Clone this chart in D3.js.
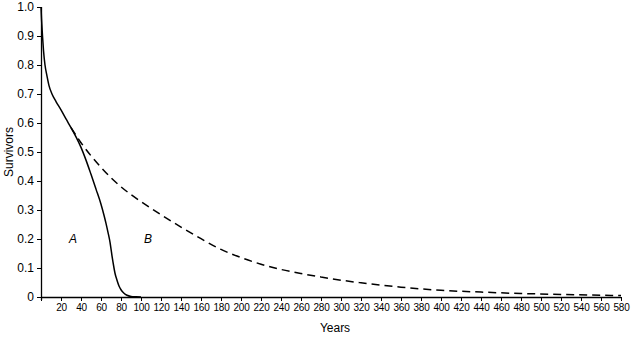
<!DOCTYPE html>
<html>
<head>
<meta charset="utf-8">
<script src="https://cdn.jsdelivr.net/npm/d3@7"></script>
<style>
  body { margin: 0; background: #fff; }
  text { font-family: "Liberation Sans", Arial, Helvetica, sans-serif; fill: #000; }
</style>
</head>
<body>
<div id="chart"></div>
<script>
// curve A (solid) : years / survivors
const yearsA = [0, 0.5, 1, 1.5, 2.5, 4, 6, 8, 11, 15, 20, 25, 30, 35, 40, 45, 50, 55, 60, 63, 65, 67, 69, 70, 71, 72, 73, 74, 76, 78, 80, 83, 86, 90, 95, 100];
const survA = [1.0, 0.96, 0.93, 0.9, 0.85, 0.8, 0.762, 0.729, 0.70, 0.674, 0.645, 0.614, 0.584, 0.552, 0.516, 0.472, 0.423, 0.372, 0.32, 0.282, 0.254, 0.223, 0.189, 0.166, 0.142, 0.12, 0.1, 0.082, 0.058, 0.038, 0.025, 0.013, 0.006, 0.002, 0.0005, 0];

// curve B (dashed) : years / survivors
const yearsB = [30, 40, 50, 60, 70, 80, 90, 100, 120, 140, 160, 180, 200, 220, 240, 260, 280, 300, 320, 340, 360, 380, 400, 440, 480, 520, 560, 580];
const survB = [0.584, 0.532, 0.487, 0.447, 0.411, 0.38, 0.353, 0.329, 0.284, 0.241, 0.201, 0.164, 0.136, 0.113, 0.095, 0.081, 0.069, 0.058, 0.049, 0.041, 0.034, 0.028, 0.023, 0.017, 0.012, 0.009, 0.006, 0.005];

const xTicks = d3.range(20, 581, 20);
const yTicks = [0, 0.1, 0.2, 0.3, 0.4, 0.5, 0.6, 0.7, 0.8, 0.9, 1.0];

const width = 633, height = 339;
const plotLeft = 41, plotRight = 621, plotTop = 7, plotBottom = 297;

const svg = d3.select("#chart").append("svg")
  .attr("width", width)
  .attr("height", height);

const x = d3.scaleLinear().domain([0, 580]).range([plotLeft, plotRight]);
const y = d3.scaleLinear().domain([0, 1]).range([plotBottom, plotTop]);

// x axis
const xAxis = svg.append("g")
  .attr("transform", `translate(0, ${plotBottom})`)
  .call(d3.axisBottom(x).tickValues([0].concat(xTicks)).tickSize(4).tickPadding(3)
    .tickFormat(d => d === 0 ? "" : d));
xAxis.select(".domain").attr("stroke", "#000").attr("stroke-width", 1.3)
  .attr("d", `M${plotLeft},0.5H${plotRight}`);
xAxis.selectAll(".tick line").attr("stroke", "#000");
xAxis.selectAll(".tick text").attr("font-size", 10).attr("letter-spacing", "-0.3px");

// y axis
const yAxis = svg.append("g")
  .attr("transform", `translate(${plotLeft}, 0)`)
  .call(d3.axisLeft(y).tickValues(yTicks).tickSize(4).tickPadding(3)
    .tickFormat(d => d === 0 ? "0" : d3.format(".1f")(d)));
yAxis.select(".domain").attr("stroke", "#000").attr("stroke-width", 1.3)
  .attr("d", `M0.5,${plotTop}V${plotBottom + 3}`);
yAxis.selectAll(".tick line").attr("stroke", "#000");
yAxis.selectAll(".tick text").attr("font-size", 12);

const line = d3.line()
  .x(d => x(d[0]))
  .y(d => y(d[1]))
  .curve(d3.curveMonotoneX);

svg.append("path")
  .datum(yearsA.map((t, i) => [t, survA[i]]))
  .attr("d", line)
  .attr("fill", "none")
  .attr("stroke", "#000")
  .attr("stroke-width", 1.5);

svg.append("path")
  .datum(yearsB.map((t, i) => [t, survB[i]]))
  .attr("d", line)
  .attr("fill", "none")
  .attr("stroke", "#000")
  .attr("stroke-width", 1.5)
  .attr("stroke-dasharray", "8,5");

// curve labels
svg.append("text").attr("x", x(32)).attr("y", y(0.185)).attr("font-size", 12)
  .attr("font-style", "italic").attr("text-anchor", "middle").text("A");
svg.append("text").attr("x", x(107)).attr("y", y(0.185)).attr("font-size", 12)
  .attr("font-style", "italic").attr("text-anchor", "middle").text("B");

// axis titles
svg.append("text")
  .attr("transform", `translate(13, ${y(0.5)}) rotate(-90)`)
  .attr("text-anchor", "middle")
  .attr("font-size", 12)
  .text("Survivors");

svg.append("text")
  .attr("x", 335).attr("y", 332)
  .attr("text-anchor", "middle")
  .attr("font-size", 12)
  .text("Years");
</script>
</body>
</html>
